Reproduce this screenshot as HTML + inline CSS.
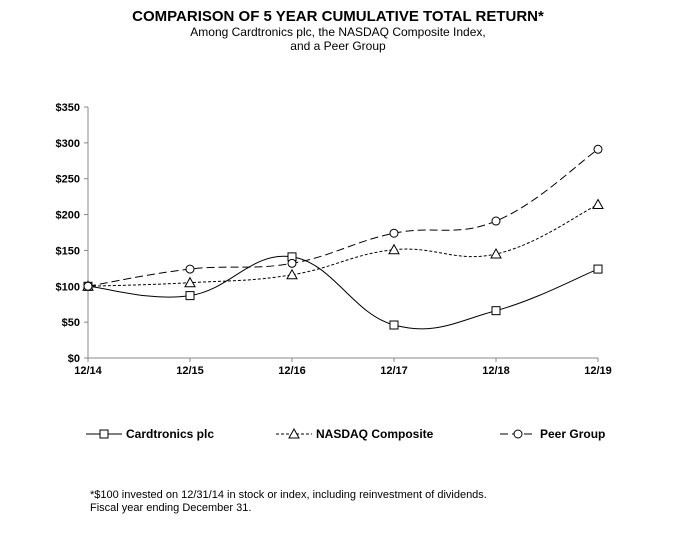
<!DOCTYPE html>
<html><head><meta charset="utf-8"><style>
body{margin:0;background:#fff;font-family:"Liberation Sans",Arial,sans-serif}
svg text{font-family:"Liberation Sans",Arial,sans-serif}
</style></head><body>
<svg id="c" width="676" height="530" xmlns="http://www.w3.org/2000/svg">
<text x="338" y="21" text-anchor="middle" font-size="15" font-weight="bold">COMPARISON OF 5 YEAR CUMULATIVE TOTAL RETURN*</text>
<text x="338" y="36" text-anchor="middle" font-size="12">Among Cardtronics plc, the NASDAQ Composite Index,</text>
<text x="338" y="50" text-anchor="middle" font-size="12">and a Peer Group</text>
<g id="axes"></g><g id="series"></g>
<text x="90" y="498" font-size="11">*$100 invested on 12/31/14 in stock or index, including reinvestment of dividends.</text>
<text x="90" y="511" font-size="11">Fiscal year ending December 31.</text>
</svg>
<script>
const categories=["12/14","12/15","12/16","12/17","12/18","12/19"];
const yTicks=[0,50,100,150,200,250,300,350];
const cardtronics=[100,87,141,46,66,124];
const nasdaq=[100,105,116,151,145,214];
const peer=[100,124,132,174,191,291];
const NS="http://www.w3.org/2000/svg";
const x0=88,x1=598,yb=358,yt=107;
const X=i=>x0+i*(x1-x0)/(categories.length-1);
const Y=v=>yb-v*(yb-yt)/350;
function mk(t,a,p){const e=document.createElementNS(NS,t);for(const k in a)e.setAttribute(k,a[k]);p.appendChild(e);return e;}
const ax=document.getElementById('axes');
const yl=mk('line',{x1:x0,y1:yt,x2:x0,y2:yb,stroke:'#888'},ax);


const xl=mk('line',{x1:x0,y1:yb,x2:x1,y2:yb,stroke:'#888'},ax);


yTicks.forEach(v=>{mk('line',{x1:x0-4,y1:Y(v),x2:x0,y2:Y(v),stroke:'#888'},ax);
const t=mk('text',{x:80,y:Y(v)+4,'text-anchor':'end','font-size':11,'font-weight':'bold'},ax);t.textContent='$'+v;

});
categories.forEach((c,i)=>{mk('line',{x1:X(i),y1:yb,x2:X(i),y2:yb+4,stroke:'#888'},ax);
const t=mk('text',{x:X(i),y:yb+16,'text-anchor':'middle','font-size':11,'font-weight':'bold'},ax);t.textContent=c;

});
function path(vals){const p=vals.map((v,i)=>[X(i),Y(v)]);let d='M'+p[0];
for(let i=0;i<p.length-1;i++){const a=p[i-1]||p[i],b=p[i],c=p[i+1],e=p[i+2]||c;const t=0.2;
d+=` C${b[0]+(c[0]-a[0])*t},${b[1]+(c[1]-a[1])*t} ${c[0]-(e[0]-b[0])*t},${c[1]-(e[1]-b[1])*t} ${c[0]},${c[1]}`;}return d;}
function marker(type,x,y,g){if(type==='sq')return mk('rect',{x:x-4,y:y-4,width:8,height:8,fill:'#fff',stroke:'#000'},g);
if(type==='tri')return mk('path',{d:`M${x},${y-5}L${x+5},${y+4}L${x-5},${y+4}Z`,fill:'#fff',stroke:'#000'},g);
return mk('circle',{cx:x,cy:y,r:4,fill:'#fff',stroke:'#000'},g);}
const sg=document.getElementById('series');
const defs=[[cardtronics,'sq','none','Cardtronics plc',86,'series-cardtronics'],[nasdaq,'tri','3,2','NASDAQ Composite',276,'series-nasdaq'],[peer,'circ','8,4','Peer Group',500,'series-peer']];
defs.forEach(([vals,m,dash,label,lx,nm])=>{const g=mk('g',{},sg);


mk('path',{d:path(vals),fill:'none',stroke:'#000','stroke-width':1,'stroke-dasharray':dash},g);
vals.forEach((v,i)=>{const mm=marker(m,X(i),Y(v),g);

});
const lg=mk('g',{},sg);


mk('line',{x1:lx,y1:434,x2:lx+36,y2:434,stroke:'#000','stroke-dasharray':dash},lg);
marker(m,lx+18,434,lg);
const t=mk('text',{x:lx+40,y:438,'font-size':12,'font-weight':'bold'},lg);t.textContent=label;});
</script>
</body></html>
